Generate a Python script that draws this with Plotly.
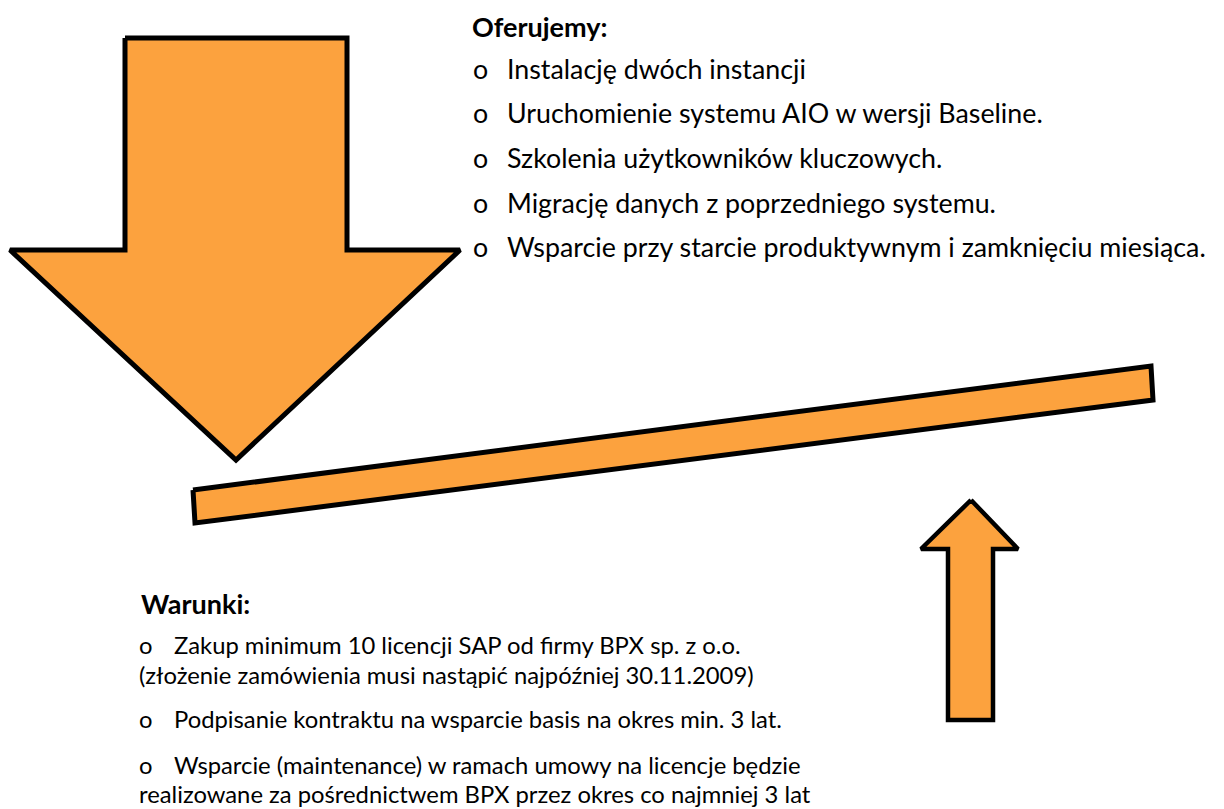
import plotly.graph_objects as go

# Shape outlines (pixel coordinates of the original slide)
big_arrow_x = [125, 347, 347, 460, 236, 10, 125, 125]
big_arrow_y = [38, 38, 250, 250, 460, 250, 250, 38]

plank_x = [193, 1151, 1153, 195, 193]
plank_y = [490, 366, 400, 523, 490]

small_arrow_x = [971, 1018, 993, 993, 948, 948, 921, 971]
small_arrow_y = [500, 549, 549, 720, 720, 549, 549, 500]

# Text content
offer_title = "Oferujemy:"
offer_items = [
    "Instalację dwóch instancji",
    "Uruchomienie systemu AIO w wersji Baseline.",
    "Szkolenia użytkowników kluczowych.",
    "Migrację danych z poprzedniego systemu.",
    "Wsparcie przy starcie produktywnym i zamknięciu miesiąca.",
]
offer_item_y = [69, 113, 158, 203, 247]

cond_title = "Warunki:"
cond_lines = [
    ("o", "Zakup minimum 10 licencji SAP od firmy BPX sp. z o.o."),
    ("", "(złożenie zamówienia musi nastąpić najpóźniej 30.11.2009)"),
    ("o", "Podpisanie kontraktu na wsparcie basis na okres min. 3 lat."),
    ("o", "Wsparcie (maintenance) w ramach umowy na licencje będzie"),
    ("", "realizowane za pośrednictwem BPX przez okres co najmniej 3 lat"),
]
cond_line_y = [645, 675, 719, 765, 794]

FILL = "#FCA23E"
FONT = "Lato"
FS_TOP = 26.8
FS_BOT = 23.8
FS_TITLE = 27
OFF = 8  # page body margin

fig = go.Figure()
for xs, ys, w in [(big_arrow_x, big_arrow_y, 5), (plank_x, plank_y, 5), (small_arrow_x, small_arrow_y, 4.5)]:
    fig.add_trace(go.Scatter(x=xs, y=ys, mode="lines", fill="toself", fillcolor=FILL,
                             line=dict(color="black", width=w), hoverinfo="skip"))

ann = []
ann.append(dict(x=470, y=26, text="<b>" + offer_title + "</b>", xanchor="left", yanchor="middle",
                showarrow=False, font=dict(family=FONT, size=FS_TITLE, color="black")))
for t, y in zip(offer_items, offer_item_y):
    ann.append(dict(x=471, y=y, text="o", xanchor="left", yanchor="middle", showarrow=False,
                    font=dict(family=FONT, size=FS_TOP, color="black")))
    ann.append(dict(x=505, y=y, text=t, xanchor="left", yanchor="middle", showarrow=False,
                    font=dict(family=FONT, size=FS_TOP, color="black")))

ann.append(dict(x=139, y=603, text="<b>" + cond_title + "</b>", xanchor="left", yanchor="middle",
                showarrow=False, font=dict(family=FONT, size=FS_TITLE, color="black")))
for (b, t), y in zip(cond_lines, cond_line_y):
    if b:
        ann.append(dict(x=137, y=y, text=b, xanchor="left", yanchor="middle", showarrow=False,
                        font=dict(family=FONT, size=FS_BOT, color="black")))
        ann.append(dict(x=172, y=y, text=t, xanchor="left", yanchor="middle", showarrow=False,
                        font=dict(family=FONT, size=FS_BOT, color="black")))
    else:
        ann.append(dict(x=137, y=y, text=t, xanchor="left", yanchor="middle", showarrow=False,
                        font=dict(family=FONT, size=FS_BOT, color="black")))

fig.update_layout(
    width=1224 - OFF, height=809 - OFF,
    margin=dict(l=0, r=0, t=0, b=0),
    paper_bgcolor="white", plot_bgcolor="white",
    showlegend=False,
    xaxis=dict(range=[OFF, 1224], visible=False, fixedrange=True),
    yaxis=dict(range=[809, OFF], visible=False, fixedrange=True),
    annotations=ann,
)
fig.write_html("out.html", config={"displayModeBar": False})
